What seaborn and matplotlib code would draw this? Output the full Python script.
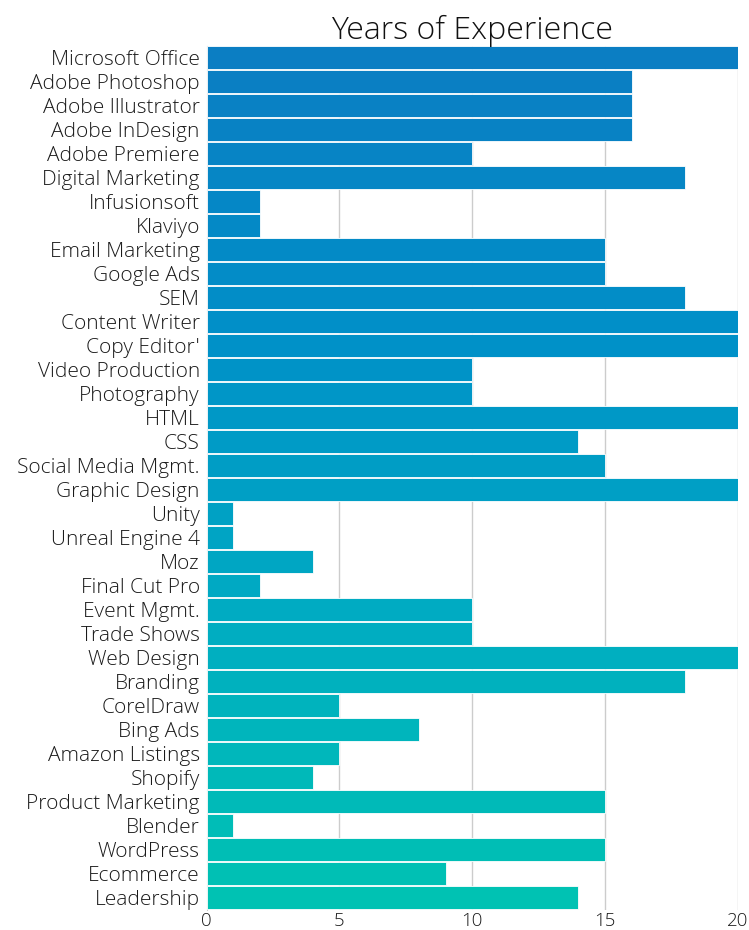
import matplotlib
matplotlib.use('Agg')
import matplotlib.pyplot as plt
import seaborn as sns
import pandas as pd

skills = ['Microsoft Office', 'Adobe Photoshop', 'Adobe Illustrator', 'Adobe InDesign',
          'Adobe Premiere', 'Digital Marketing', 'Infusionsoft', 'Klaviyo',
          'Email Marketing', 'Google Ads', 'SEM', 'Content Writer', "Copy Editor'",
          'Video Production', 'Photography', 'HTML', 'CSS', 'Social Media Mgmt.',
          'Graphic Design', 'Unity', 'Unreal Engine 4', 'Moz', 'Final Cut Pro',
          'Event Mgmt.', 'Trade Shows', 'Web Design', 'Branding', 'CorelDraw',
          'Bing Ads', 'Amazon Listings', 'Shopify', 'Product Marketing', 'Blender',
          'WordPress', 'Ecommerce', 'Leadership']
years = [20, 16, 16, 16, 10, 18, 2, 2, 15, 15, 18, 20, 20, 10, 10, 20, 14, 15,
         20, 1, 1, 4, 2, 10, 10, 20, 18, 5, 8, 5, 4, 15, 1, 15, 9, 14]
x_ticks = [0, 5, 10, 15, 20]

df = pd.DataFrame({'skill': skills, 'years': years})

sns.set_style('white')
plt.rcParams['font.family'] = ['Open Sans', 'DejaVu Sans']

palette = sns.blend_palette(['#0b7ec3', '#0090c8', '#00acc2', '#00c2b3'], len(skills))

fig, ax = plt.subplots(figsize=(7.49, 9.30), dpi=100)
sns.barplot(data=df, x='years', y='skill', hue='skill', palette=palette, legend=False,
            saturation=1, ax=ax, width=0.96, edgecolor='white', linewidth=0.6, zorder=3)

ax.set_xlim(0, 20)
ax.set_xticks(x_ticks)
ax.set_ylim(len(skills) - 0.5, -0.5)
ax.grid(axis='x', color='#cccccc', linewidth=1, zorder=0)
for s in ['top', 'right', 'bottom']:
    ax.spines[s].set_visible(False)
ax.spines['left'].set_color('#cccccc')
ax.tick_params(axis='y', length=0, labelsize=15, pad=5)
ax.tick_params(axis='x', length=0, labelsize=13.5, pad=2)
for lbl in ax.get_yticklabels() + ax.get_xticklabels():
    lbl.set_fontweight('light')
    lbl.set_color('#1a1a1a')
ax.set_xlabel('')
ax.set_ylabel('')
ax.set_title('Years of Experience', fontsize=23, fontweight='light', color='#111111', pad=5)

fig.subplots_adjust(left=0.276, right=0.985, top=0.951, bottom=0.022)
fig.savefig('out.png', dpi=100)
